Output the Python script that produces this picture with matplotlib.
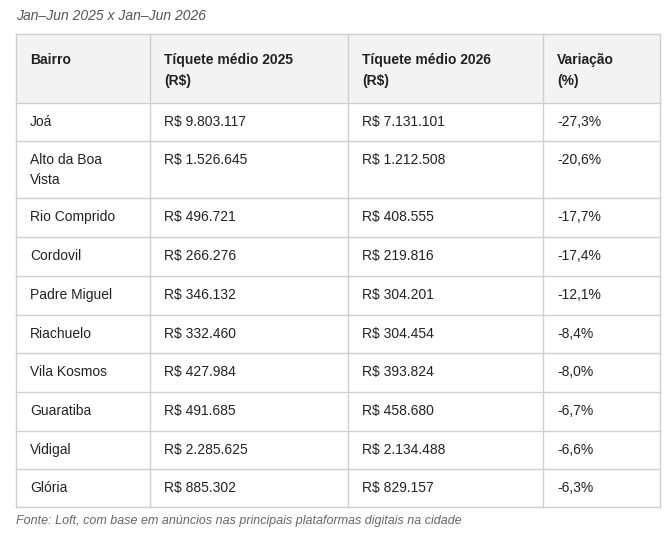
import matplotlib.pyplot as plt
from matplotlib.patches import Rectangle

plt.rcParams['font.family'] = ['Liberation Sans', 'DejaVu Sans']

title = "Jan–Jun 2025 x Jan–Jun 2026"
source = "Fonte: Loft, com base em anúncios nas principais plataformas digitais na cidade"
headers = ["Bairro", "Tíquete médio 2025\n(R$)", "Tíquete médio 2026\n(R$)", "Variação\n(%)"]
bairros = ["Joá", "Alto da Boa\nVista", "Rio Comprido", "Cordovil", "Padre Miguel",
           "Riachuelo", "Vila Kosmos", "Guaratiba", "Vidigal", "Glória"]
ticket_2025 = ["R$ 9.803.117", "R$ 1.526.645", "R$ 496.721", "R$ 266.276", "R$ 346.132",
               "R$ 332.460", "R$ 427.984", "R$ 491.685", "R$ 2.285.625", "R$ 885.302"]
ticket_2026 = ["R$ 7.131.101", "R$ 1.212.508", "R$ 408.555", "R$ 219.816", "R$ 304.201",
               "R$ 304.454", "R$ 393.824", "R$ 458.680", "R$ 2.134.488", "R$ 829.157"]
variacao = ["-27,3%", "-20,6%", "-17,7%", "-17,4%", "-12,1%",
            "-8,4%", "-8,0%", "-6,7%", "-6,6%", "-6,3%"]

W, H = 672, 536
fig = plt.figure(figsize=(W / 100, H / 100), dpi=100)
ax = fig.add_axes([0, 0, 1, 1])
ax.set_xlim(0, W)
ax.set_ylim(H, 0)
ax.axis('off')

left, right = 16, 660
col_x = [16, 150, 348, 543, 660]
row_y = [34, 103, 141, 198, 237, 276, 315, 353, 392, 431, 469, 507]
line_c = '#cfcfcf'
fs = 10

ax.add_patch(Rectangle((left, row_y[0]), right - left, row_y[1] - row_y[0],
                       facecolor='#f3f3f3', edgecolor='none'))
for y in row_y:
    ax.plot([left, right], [y, y], color=line_c, lw=1)
for x in col_x:
    ax.plot([x, x], [row_y[0], row_y[-1]], color=line_c, lw=1)

ax.text(16, 16, title, fontsize=fs, style='italic', color='#555555', va='center', parse_math=False)
ax.text(16, 521, source, fontsize=9, style='italic', color='#666666', va='center', parse_math=False)

for j, h in enumerate(headers):
    ax.text(col_x[j] + 14, row_y[0] + 19, h, fontsize=fs, fontweight='bold', color='#222222',
            va='top', linespacing=1.6, parse_math=False)

for i, row in enumerate(zip(bairros, ticket_2025, ticket_2026, variacao)):
    top = row_y[i + 1]
    for j, val in enumerate(row):
        ax.text(col_x[j] + 14, top + 12, val, fontsize=fs, color='#222222',
                va='top', linespacing=1.5, parse_math=False)

fig.savefig('out.png', dpi=100, facecolor='white')
